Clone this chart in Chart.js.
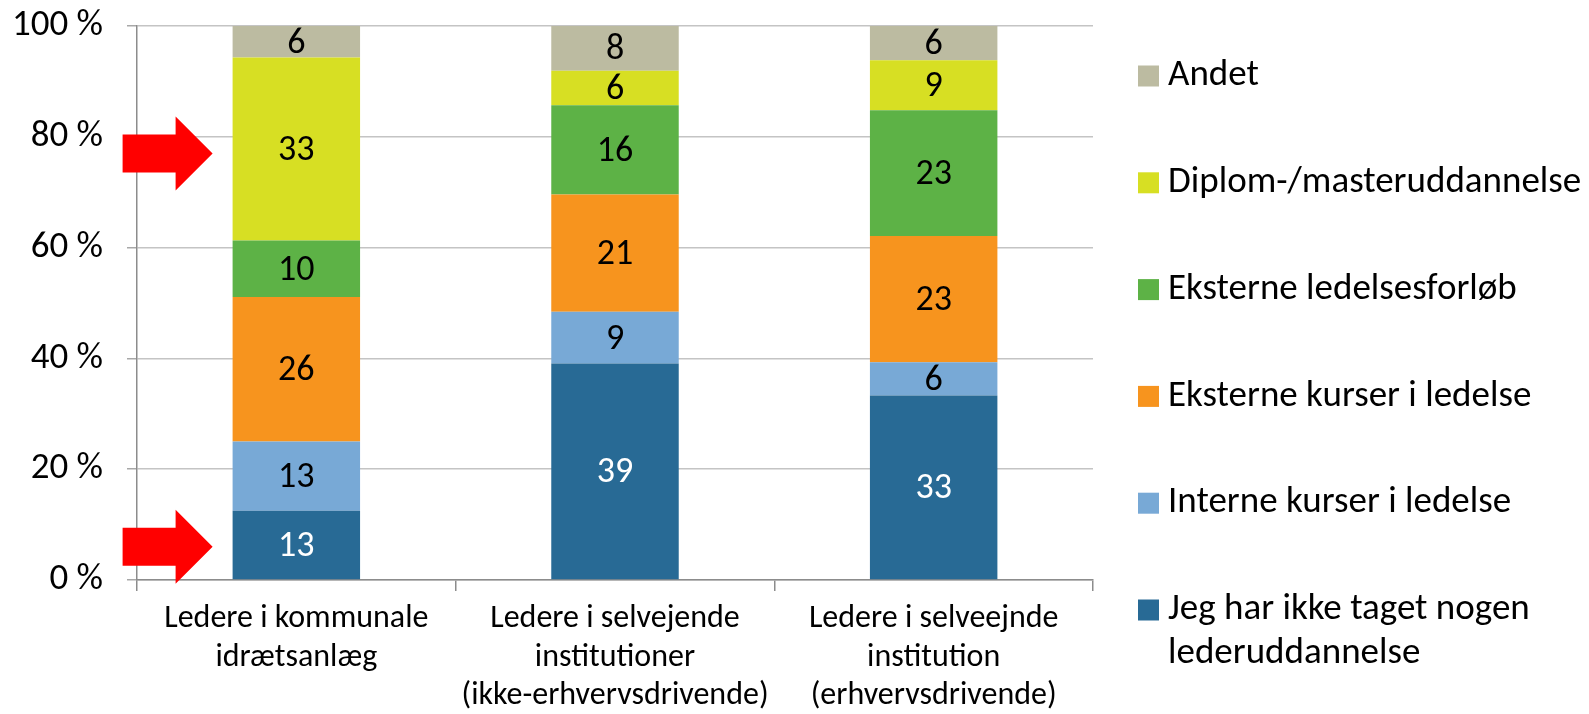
<!DOCTYPE html>
<html>
<head>
<meta charset="utf-8">
<script src="https://cdn.jsdelivr.net/npm/chart.js@4.4.1/dist/chart.umd.min.js"></script>
<style>
  html, body { margin: 0; padding: 0; background: #ffffff; }
  #wrap { width: 1589px; height: 714px; position: relative; }
</style>
</head>
<body>
<div id="wrap"><canvas id="c" width="1589" height="714"></canvas></div>
<script>
// ---- data (percent of respondents per group) ----
const categories = [
  ["Ledere i kommunale", "idrætsanlæg"],
  ["Ledere i selvejende", "institutioner", "(ikke-erhvervsdrivende)"],
  ["Ledere i selveejnde", "institution", "(erhvervsdrivende)"]
];
const seriesNames = [
  "Jeg har ikke taget nogen lederuddannelse",
  "Interne kurser i ledelse",
  "Eksterne kurser i ledelse",
  "Eksterne ledelsesforløb",
  "Diplom-/masteruddannelse",
  "Andet"
];
const legendLines = [
  ["Jeg har ikke taget nogen", "lederuddannelse"],
  ["Interne kurser i ledelse"],
  ["Eksterne kurser i ledelse"],
  ["Eksterne ledelsesforløb"],
  ["Diplom-/masteruddannelse"],
  ["Andet"]
];
const ingenUddannelse   = [12.5, 39.1, 33.3];
const interneKurser     = [12.5,  9.3,  6.0];
const eksterneKurser    = [26.1, 21.2, 22.8];
const eksterneForloeb   = [10.2, 16.1, 22.7];
const diplomMaster      = [33.0,  6.2,  9.0];
const andet             = [ 5.7,  8.1,  6.2];
const yTicks = [0, 20, 40, 60, 80, 100];
const arrowTargets = [77, 6];   // y-values (%) pointed at by the red arrows on the first bar

const seriesValues = [ingenUddannelse, interneKurser, eksterneKurser, eksterneForloeb, diplomMaster, andet];
const colors = ["#286a95", "#78a9d6", "#f7941e", "#5db246", "#d7df23", "#bcbba1"];
const labelColors = ["#ffffff", "#000000", "#000000", "#000000", "#000000", "#000000"];
const FONT = "Calibri, Carlito, Lato, sans-serif";

const dataLabelPlugin = {
  id: "dataLabels",
  afterDatasetsDraw(chart) {
    const ctx = chart.ctx;
    ctx.save();
    ctx.font = "36px " + FONT;
    ctx.textAlign = "center";
    ctx.textBaseline = "middle";
    chart.data.datasets.forEach((ds, di) => {
      const meta = chart.getDatasetMeta(di);
      meta.data.forEach((bar, i) => {
        const p = bar.getCenterPoint();
        ctx.fillStyle = labelColors[di];
        ctx.fillText(String(Math.round(ds.data[i])), p.x, p.y + 2);
      });
    });
    ctx.restore();
  }
};

const legendPlugin = {
  id: "sideLegend",
  afterDraw(chart) {
    const ctx = chart.ctx;
    const area = chart.chartArea;
    ctx.save();
    ctx.font = "37px " + FONT;
    ctx.textBaseline = "middle";
    ctx.textAlign = "left";
    const boxX = area.right + 45, textX = area.right + 75;
    const n = chart.data.datasets.length;
    for (let k = 0; k < n; k++) {
      const di = n - 1 - k;               // reversed order: Andet on top
      const cy = 76 + k * 106.8;
      ctx.fillStyle = chart.data.datasets[di].backgroundColor;
      ctx.fillRect(boxX, cy - 10.5, 21, 21);
      ctx.fillStyle = "#000000";
      legendLines[di].forEach((line, li) => ctx.fillText(line, textX, cy + li * 44));
    }
    ctx.restore();
  }
};

const arrowPlugin = {
  id: "arrows",
  afterDraw(chart) {
    const ctx = chart.ctx;
    const y = chart.scales.y;
    const bar = chart.getDatasetMeta(0).data[0];
    const tipX = bar.x - bar.width / 2 - 20;
    ctx.save();
    ctx.fillStyle = "#ff0000";
    arrowTargets.forEach(v => {
      const cy = y.getPixelForValue(v);
      const x0 = tipX - 90, xh = tipX - 37;
      ctx.beginPath();
      ctx.moveTo(x0, cy - 19);
      ctx.lineTo(xh, cy - 19);
      ctx.lineTo(xh, cy - 37);
      ctx.lineTo(tipX, cy);
      ctx.lineTo(xh, cy + 37);
      ctx.lineTo(xh, cy + 19);
      ctx.lineTo(x0, cy + 19);
      ctx.closePath();
      ctx.fill();
    });
    ctx.restore();
  }
};

new Chart(document.getElementById("c"), {
  type: "bar",
  data: {
    labels: categories,
    datasets: seriesNames.map((name, i) => ({
      label: name,
      data: seriesValues[i],
      backgroundColor: colors[i],
      borderWidth: 0,
      barPercentage: 0.4,
      categoryPercentage: 1.0
    }))
  },
  options: {
    responsive: false,
    animation: false,
    devicePixelRatio: 1,
    layout: { padding: { top: 26, right: 496, left: 0, bottom: 0 } },
    plugins: { legend: { display: false }, tooltip: { enabled: false } },
    scales: {
      x: {
        stacked: true,
        grid: { offset: true, drawOnChartArea: false, drawTicks: true, tickLength: 11, color: "#8c8c8c", lineWidth: 1.5 },
        border: { display: true, color: "#8c8c8c", width: 1.5 },
        ticks: { color: "#000000", font: { family: FONT, size: 32, lineHeight: 1.2 }, padding: 9, maxRotation: 0, autoSkip: false },
        afterFit(scale) { scale.height = 134; scale.paddingLeft = 0; scale.paddingRight = 0; }
      },
      y: {
        stacked: true,
        min: 0, max: 100,
        afterBuildTicks(scale) { scale.ticks = yTicks.map(v => ({ value: v })); },
        grid: { color: "#c4c4c4", lineWidth: 1.5, tickLength: 10, tickColor: "#a8a8a8" },
        border: { display: true, color: "#8c8c8c", width: 1.5 },
        ticks: { color: "#000000", font: { family: FONT, size: 37 }, padding: 24, callback: v => v + " %" },
        afterFit(scale) { scale.width = 137; scale.paddingTop = 0; scale.paddingBottom = 0; }
      }
    }
  },
  plugins: [dataLabelPlugin, legendPlugin, arrowPlugin]
});
</script>
</body>
</html>
